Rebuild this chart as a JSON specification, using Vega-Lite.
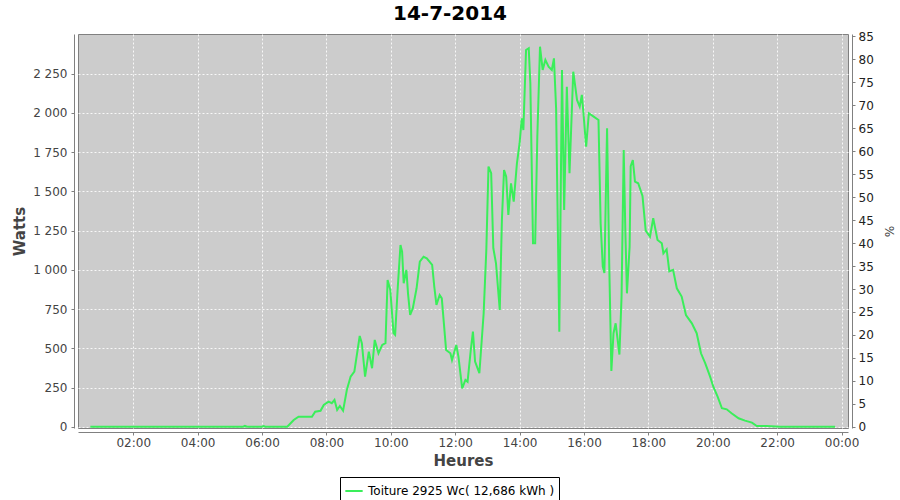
{
  "$schema": "https://vega.github.io/schema/vega-lite/v6.json",
  "autosize": {"type": "none"},
  "padding": {"left": 78, "top": 34, "right": 52, "bottom": 72},
  "width": 770,
  "height": 394,
  "background": "white",
  "title": {"text": "14-7-2014", "font": "DejaVu Sans", "fontSize": 20, "fontWeight": "bold", "color": "black", "anchor": "middle", "frame": "group", "offset": 6, "dx": -13},
  "config": {
    "locale": {"number": {"decimal": ",", "thousands": " ", "grouping": [3], "currency": ["", " €"]}},
    "view": {"fill": "#cccccc", "stroke": "#808080", "strokeWidth": 1},
    "axis": {"labelFont": "DejaVu Sans", "labelFontSize": 12, "labelColor": "#444444", "titleFont": "DejaVu Sans", "titleColor": "#444444", "domainColor": "#808080", "tickColor": "#808080", "gridColor": "#ffffff", "gridDash": [2, 2], "gridOpacity": 0.85, "gridWidth": 1}
  },
  "layer": [
    {
      "data": {"values": [
        {"t": "2014-07-14T00:40", "W": 0},
        {"t": "2014-07-14T01:30", "W": 0},
        {"t": "2014-07-14T02:30", "W": 0},
        {"t": "2014-07-14T03:30", "W": 0},
        {"t": "2014-07-14T04:40", "W": 0},
        {"t": "2014-07-14T05:25", "W": 0},
        {"t": "2014-07-14T05:28", "W": 5},
        {"t": "2014-07-14T05:32", "W": 0},
        {"t": "2014-07-14T06:00", "W": 0},
        {"t": "2014-07-14T06:03", "W": 4},
        {"t": "2014-07-14T06:06", "W": 0},
        {"t": "2014-07-14T06:47", "W": 0},
        {"t": "2014-07-14T06:59", "W": 43},
        {"t": "2014-07-14T07:08", "W": 64},
        {"t": "2014-07-14T07:33", "W": 64},
        {"t": "2014-07-14T07:39", "W": 96},
        {"t": "2014-07-14T07:49", "W": 102},
        {"t": "2014-07-14T07:55", "W": 139},
        {"t": "2014-07-14T08:04", "W": 160},
        {"t": "2014-07-14T08:10", "W": 150},
        {"t": "2014-07-14T08:15", "W": 171},
        {"t": "2014-07-14T08:20", "W": 107},
        {"t": "2014-07-14T08:25", "W": 132},
        {"t": "2014-07-14T08:31", "W": 102},
        {"t": "2014-07-14T08:38", "W": 234},
        {"t": "2014-07-14T08:45", "W": 319},
        {"t": "2014-07-14T08:52", "W": 351},
        {"t": "2014-07-14T09:02", "W": 578},
        {"t": "2014-07-14T09:06", "W": 532},
        {"t": "2014-07-14T09:12", "W": 319},
        {"t": "2014-07-14T09:19", "W": 478},
        {"t": "2014-07-14T09:25", "W": 373},
        {"t": "2014-07-14T09:30", "W": 553},
        {"t": "2014-07-14T09:37", "W": 468},
        {"t": "2014-07-14T09:44", "W": 521},
        {"t": "2014-07-14T09:50", "W": 532},
        {"t": "2014-07-14T09:54", "W": 935},
        {"t": "2014-07-14T09:59", "W": 871},
        {"t": "2014-07-14T10:05", "W": 596},
        {"t": "2014-07-14T10:08", "W": 585},
        {"t": "2014-07-14T10:13", "W": 892},
        {"t": "2014-07-14T10:18", "W": 1158},
        {"t": "2014-07-14T10:21", "W": 1115},
        {"t": "2014-07-14T10:24", "W": 914},
        {"t": "2014-07-14T10:29", "W": 999},
        {"t": "2014-07-14T10:32", "W": 850},
        {"t": "2014-07-14T10:36", "W": 712},
        {"t": "2014-07-14T10:41", "W": 755},
        {"t": "2014-07-14T10:48", "W": 882},
        {"t": "2014-07-14T10:54", "W": 1052},
        {"t": "2014-07-14T11:01", "W": 1083},
        {"t": "2014-07-14T11:07", "W": 1073},
        {"t": "2014-07-14T11:17", "W": 1031},
        {"t": "2014-07-14T11:21", "W": 892},
        {"t": "2014-07-14T11:25", "W": 776},
        {"t": "2014-07-14T11:31", "W": 839},
        {"t": "2014-07-14T11:35", "W": 818},
        {"t": "2014-07-14T11:43", "W": 489},
        {"t": "2014-07-14T11:51", "W": 468},
        {"t": "2014-07-14T11:54", "W": 425},
        {"t": "2014-07-14T12:02", "W": 521},
        {"t": "2014-07-14T12:06", "W": 447},
        {"t": "2014-07-14T12:13", "W": 245},
        {"t": "2014-07-14T12:19", "W": 298},
        {"t": "2014-07-14T12:23", "W": 287},
        {"t": "2014-07-14T12:29", "W": 489},
        {"t": "2014-07-14T12:33", "W": 606},
        {"t": "2014-07-14T12:37", "W": 415},
        {"t": "2014-07-14T12:45", "W": 341},
        {"t": "2014-07-14T12:53", "W": 723},
        {"t": "2014-07-14T12:58", "W": 1130},
        {"t": "2014-07-14T13:02", "W": 1657},
        {"t": "2014-07-14T13:07", "W": 1615},
        {"t": "2014-07-14T13:11", "W": 1137},
        {"t": "2014-07-14T13:16", "W": 1041},
        {"t": "2014-07-14T13:23", "W": 744},
        {"t": "2014-07-14T13:27", "W": 1317},
        {"t": "2014-07-14T13:31", "W": 1636},
        {"t": "2014-07-14T13:35", "W": 1593},
        {"t": "2014-07-14T13:39", "W": 1349},
        {"t": "2014-07-14T13:44", "W": 1551},
        {"t": "2014-07-14T13:49", "W": 1434},
        {"t": "2014-07-14T13:55", "W": 1678},
        {"t": "2014-07-14T14:00", "W": 1806},
        {"t": "2014-07-14T14:04", "W": 1965},
        {"t": "2014-07-14T14:07", "W": 1890},
        {"t": "2014-07-14T14:12", "W": 2400},
        {"t": "2014-07-14T14:17", "W": 2411},
        {"t": "2014-07-14T14:20", "W": 2188},
        {"t": "2014-07-14T14:25", "W": 1169},
        {"t": "2014-07-14T14:29", "W": 1169},
        {"t": "2014-07-14T14:33", "W": 1848},
        {"t": "2014-07-14T14:38", "W": 2421},
        {"t": "2014-07-14T14:43", "W": 2273},
        {"t": "2014-07-14T14:48", "W": 2337},
        {"t": "2014-07-14T14:54", "W": 2294},
        {"t": "2014-07-14T15:00", "W": 2273},
        {"t": "2014-07-14T15:04", "W": 2347},
        {"t": "2014-07-14T15:08", "W": 2029},
        {"t": "2014-07-14T15:14", "W": 606},
        {"t": "2014-07-14T15:19", "W": 2273},
        {"t": "2014-07-14T15:23", "W": 1381},
        {"t": "2014-07-14T15:28", "W": 2166},
        {"t": "2014-07-14T15:33", "W": 1615},
        {"t": "2014-07-14T15:40", "W": 2262},
        {"t": "2014-07-14T15:47", "W": 2082},
        {"t": "2014-07-14T15:52", "W": 2039},
        {"t": "2014-07-14T15:56", "W": 2114},
        {"t": "2014-07-14T15:59", "W": 1997},
        {"t": "2014-07-14T16:04", "W": 1784},
        {"t": "2014-07-14T16:09", "W": 1997},
        {"t": "2014-07-14T16:18", "W": 1976},
        {"t": "2014-07-14T16:27", "W": 1954},
        {"t": "2014-07-14T16:31", "W": 1296},
        {"t": "2014-07-14T16:35", "W": 1020},
        {"t": "2014-07-14T16:38", "W": 980},
        {"t": "2014-07-14T16:43", "W": 1901},
        {"t": "2014-07-14T16:47", "W": 1041},
        {"t": "2014-07-14T16:51", "W": 355},
        {"t": "2014-07-14T16:55", "W": 596},
        {"t": "2014-07-14T16:59", "W": 659},
        {"t": "2014-07-14T17:06", "W": 460},
        {"t": "2014-07-14T17:10", "W": 830},
        {"t": "2014-07-14T17:14", "W": 1763},
        {"t": "2014-07-14T17:17", "W": 1254},
        {"t": "2014-07-14T17:20", "W": 850},
        {"t": "2014-07-14T17:25", "W": 1147},
        {"t": "2014-07-14T17:27", "W": 1660},
        {"t": "2014-07-14T17:31", "W": 1699},
        {"t": "2014-07-14T17:35", "W": 1561},
        {"t": "2014-07-14T17:41", "W": 1551},
        {"t": "2014-07-14T17:49", "W": 1470},
        {"t": "2014-07-14T17:55", "W": 1250},
        {"t": "2014-07-14T18:03", "W": 1211},
        {"t": "2014-07-14T18:09", "W": 1328},
        {"t": "2014-07-14T18:17", "W": 1190},
        {"t": "2014-07-14T18:25", "W": 1169},
        {"t": "2014-07-14T18:28", "W": 1105},
        {"t": "2014-07-14T18:34", "W": 1130},
        {"t": "2014-07-14T18:39", "W": 990},
        {"t": "2014-07-14T18:46", "W": 1000},
        {"t": "2014-07-14T18:53", "W": 882},
        {"t": "2014-07-14T19:02", "W": 829},
        {"t": "2014-07-14T19:10", "W": 712},
        {"t": "2014-07-14T19:21", "W": 659},
        {"t": "2014-07-14T19:30", "W": 596},
        {"t": "2014-07-14T19:38", "W": 468},
        {"t": "2014-07-14T19:46", "W": 404},
        {"t": "2014-07-14T19:55", "W": 319},
        {"t": "2014-07-14T20:01", "W": 255},
        {"t": "2014-07-14T20:09", "W": 192},
        {"t": "2014-07-14T20:17", "W": 118},
        {"t": "2014-07-14T20:26", "W": 111},
        {"t": "2014-07-14T20:35", "W": 86},
        {"t": "2014-07-14T20:48", "W": 54},
        {"t": "2014-07-14T21:00", "W": 39},
        {"t": "2014-07-14T21:13", "W": 26},
        {"t": "2014-07-14T21:22", "W": 5},
        {"t": "2014-07-14T21:40", "W": 5},
        {"t": "2014-07-14T22:05", "W": 0},
        {"t": "2014-07-14T22:30", "W": 0},
        {"t": "2014-07-14T23:00", "W": 0},
        {"t": "2014-07-14T23:48", "W": 0}
      ]},
      "mark": {"type": "line", "strokeWidth": 2, "interpolate": "linear"},
      "encoding": {
        "x": {
          "field": "t", "type": "temporal",
          "scale": {"domain": [{"year": 2014, "month": 7, "date": 14, "hours": 0, "minutes": 17}, {"year": 2014, "month": 7, "date": 15, "hours": 0, "minutes": 12}], "nice": false},
          "axis": {"title": "Heures", "titleFontSize": 15, "titleFontWeight": "bold", "titlePadding": 5, "format": "%H:%M",
            "values": [
              {"year": 2014, "month": 7, "date": 14, "hours": 2},
              {"year": 2014, "month": 7, "date": 14, "hours": 4},
              {"year": 2014, "month": 7, "date": 14, "hours": 6},
              {"year": 2014, "month": 7, "date": 14, "hours": 8},
              {"year": 2014, "month": 7, "date": 14, "hours": 10},
              {"year": 2014, "month": 7, "date": 14, "hours": 12},
              {"year": 2014, "month": 7, "date": 14, "hours": 14},
              {"year": 2014, "month": 7, "date": 14, "hours": 16},
              {"year": 2014, "month": 7, "date": 14, "hours": 18},
              {"year": 2014, "month": 7, "date": 14, "hours": 20},
              {"year": 2014, "month": 7, "date": 14, "hours": 22},
              {"year": 2014, "month": 7, "date": 15, "hours": 0}
            ],
            "offset": 4, "tickSize": 3, "labelPadding": 2, "grid": true, "labelFlush": false, "labelOverlap": false}
        },
        "y": {
          "field": "W", "type": "quantitative",
          "scale": {"domain": [-8, 2502], "nice": false, "zero": false},
          "axis": {"title": "Watts", "titleFontSize": 15, "titleFontWeight": "bold", "titlePadding": 5, "values": [0, 250, 500, 750, 1000, 1250, 1500, 1750, 2000, 2250], "format": ",d", "offset": 4, "tickSize": 3, "labelPadding": 4, "grid": true}
        },
        "color": {
          "datum": "Toiture 2925 Wc( 12,686 kWh )", "type": "nominal",
          "scale": {"range": ["#3aee5a"]},
          "legend": {"title": null, "orient": "none", "legendX": 262, "legendY": 443, "direction": "horizontal", "strokeColor": "black", "fillColor": "white", "padding": 4, "cornerRadius": 0, "symbolType": "stroke", "symbolStrokeWidth": 2, "symbolSize": 300, "labelFont": "DejaVu Sans", "labelFontSize": 12, "labelColor": "black", "labelLimit": 0}
        }
      }
    },
    {
      "data": {"values": [{"p": 0}, {"p": 85}]},
      "mark": {"type": "point", "opacity": 0},
      "encoding": {
        "y": {
          "field": "p", "type": "quantitative",
          "scale": {"domain": [-0.27, 85.54], "nice": false, "zero": false},
          "axis": {"orient": "right", "title": "%", "titleFontSize": 12, "titleFontWeight": "normal", "titlePadding": 8, "values": [0, 5, 10, 15, 20, 25, 30, 35, 40, 45, 50, 55, 60, 65, 70, 75, 80, 85], "offset": 4, "tickSize": 3, "labelPadding": 3, "grid": false, "labelColor": "#222222"}
        }
      }
    }
  ],
  "resolve": {"scale": {"y": "independent"}, "axis": {"y": "independent"}}
}
